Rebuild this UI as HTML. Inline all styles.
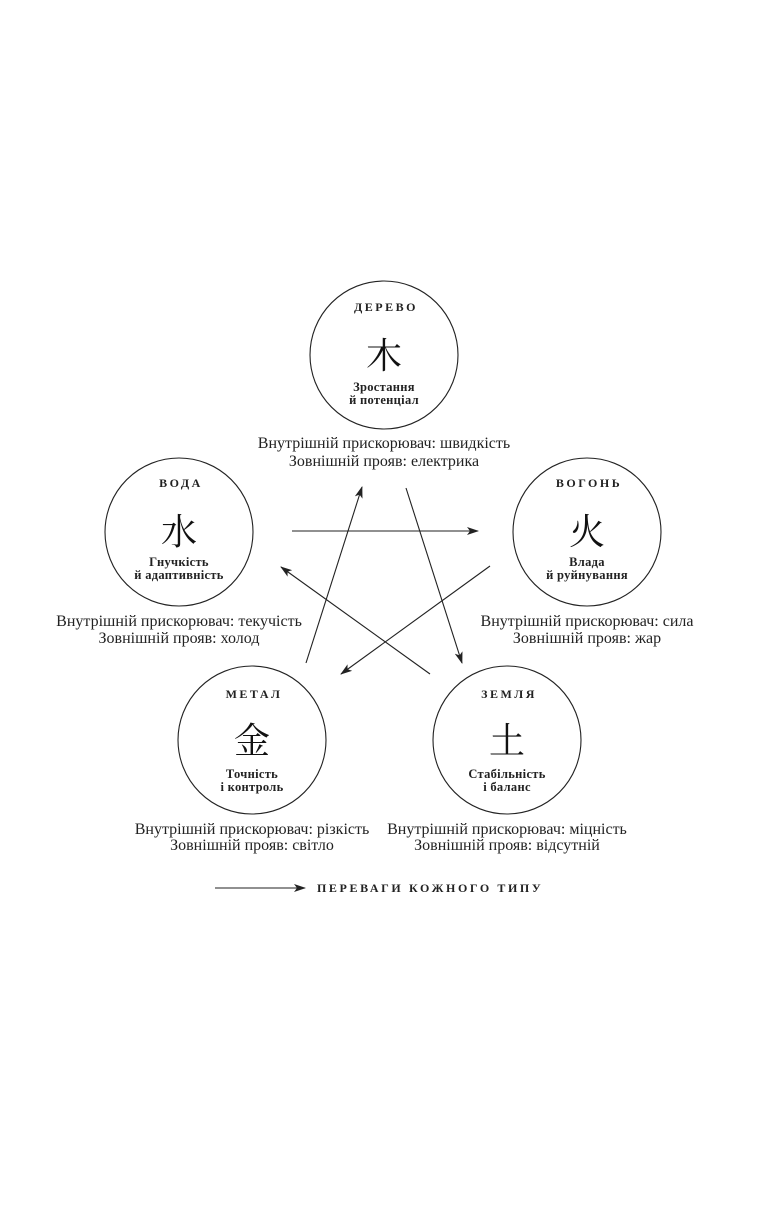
<!DOCTYPE html>
<html><head><meta charset="utf-8"><style>
html,body{margin:0;padding:0;background:#fff;}
svg{display:block}
.t{font-family:"Liberation Serif",serif;fill:#222;}
.h{font-weight:bold;font-size:12px;letter-spacing:2.5px;}
.b{font-weight:bold;font-size:12.5px;letter-spacing:0.3px;}
.n{font-size:16px;}
.c{font-family:"Noto Serif CJK SC","Noto Sans CJK SC",serif;font-size:36px;fill:#111;}
</style></head><body>
<svg width="780" height="1223" viewBox="0 0 780 1223">
<defs><marker id="a" markerWidth="12" markerHeight="8" refX="11" refY="4" orient="auto" markerUnits="userSpaceOnUse"><path d="M0,0 L12,4 L0,8 L3,4 z" fill="#222"/></marker></defs>
<g fill="none" stroke="#222" stroke-width="1.1">
<circle cx="384" cy="355" r="74"/>
<circle cx="179" cy="532" r="74"/>
<circle cx="587" cy="532" r="74"/>
<circle cx="252" cy="740" r="74"/>
<circle cx="507" cy="740" r="74"/>
<line x1="292" y1="531" x2="478" y2="531" marker-end="url(#a)"/>
<line x1="490" y1="566" x2="341" y2="674" marker-end="url(#a)"/>
<line x1="306" y1="663" x2="362" y2="487" marker-end="url(#a)"/>
<line x1="406" y1="488" x2="462" y2="663" marker-end="url(#a)"/>
<line x1="430" y1="674" x2="281" y2="567" marker-end="url(#a)"/>
<line x1="215" y1="888" x2="305" y2="888" marker-end="url(#a)"/>
</g>
<g text-anchor="middle">
<text class="t h" x="386" y="311">ДЕРЕВО</text>
<text class="c" x="384" y="368">木</text>
<text class="t b" x="384" y="391">Зростання</text>
<text class="t b" x="384" y="404">й потенціал</text>
<text class="t n" x="384" y="448">Внутрішній прискорювач: швидкість</text>
<text class="t n" x="384" y="466">Зовнішній прояв: електрика</text>

<text class="t h" x="181" y="487">ВОДА</text>
<text class="c" x="179" y="544">水</text>
<text class="t b" x="179" y="566">Гнучкість</text>
<text class="t b" x="179" y="579">й адаптивність</text>
<text class="t n" x="179" y="626">Внутрішній прискорювач: текучість</text>
<text class="t n" x="179" y="643">Зовнішній прояв: холод</text>

<text class="t h" x="589" y="487">ВОГОНЬ</text>
<text class="c" x="587" y="544">火</text>
<text class="t b" x="587" y="566">Влада</text>
<text class="t b" x="587" y="579">й руйнування</text>
<text class="t n" x="587" y="626">Внутрішній прискорювач: сила</text>
<text class="t n" x="587" y="643">Зовнішній прояв: жар</text>

<text class="t h" x="254" y="698">МЕТАЛ</text>
<text class="c" x="252" y="753">金</text>
<text class="t b" x="252" y="778">Точність</text>
<text class="t b" x="252" y="791">і контроль</text>
<text class="t n" x="252" y="834">Внутрішній прискорювач: різкість</text>
<text class="t n" x="252" y="850">Зовнішній прояв: світло</text>

<text class="t h" x="509" y="698">ЗЕМЛЯ</text>
<text class="c" x="507" y="753">土</text>
<text class="t b" x="507" y="778">Стабільність</text>
<text class="t b" x="507" y="791">і баланс</text>
<text class="t n" x="507" y="834">Внутрішній прискорювач: міцність</text>
<text class="t n" x="507" y="850">Зовнішній прояв: відсутній</text>
</g>
<text class="t h" x="317" y="892" style="letter-spacing:2.6px">ПЕРЕВАГИ КОЖНОГО ТИПУ</text>
</svg>
</body></html>
